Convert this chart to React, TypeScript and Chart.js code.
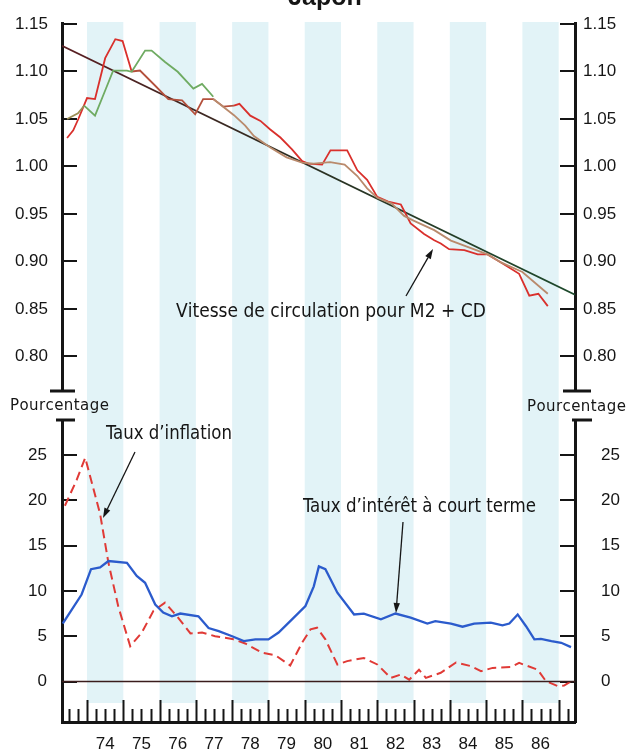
import React, { useEffect, useRef } from "react";
import { Chart, registerables } from "chart.js";

Chart.register(...registerables);

// ---------- DATA ----------
const X_MIN = 1973.31;
const X_MAX = 1987.45;

const velTicks = [0.8, 0.85, 0.9, 0.95, 1.0, 1.05, 1.1, 1.15];
const pctTicks = [0, 5, 10, 15, 20, 25];
const yearLabels = [74, 75, 76, 77, 78, 79, 80, 81, 82, 83, 84, 85, 86];
const shadedYears = [1974, 1976, 1978, 1980, 1982, 1984, 1986];

// Velocity of circulation (M2 + CD), red series
const velRedYears = [
  1973.45, 1973.62, 1973.76, 1974.0, 1974.22, 1974.5, 1974.78, 1974.98, 1975.23, 1975.46,
  1975.88, 1976.24, 1976.62, 1976.98, 1977.2, 1977.48, 1977.76, 1978.05, 1978.2, 1978.5,
  1978.78, 1979.05, 1979.33, 1979.65, 1979.93, 1980.1, 1980.48, 1980.71, 1981.17, 1981.45,
  1981.72, 1982.0, 1982.3, 1982.65, 1982.92, 1983.29, 1983.57, 1983.75, 1983.98, 1984.4,
  1984.77, 1985.04, 1985.41, 1985.91, 1986.19, 1986.44, 1986.7,
];
const velRedValues = [
  1.03, 1.038, 1.05, 1.072, 1.071, 1.114, 1.134, 1.132, 1.1, 1.101,
  1.085, 1.071, 1.0695, 1.055, 1.071, 1.071, 1.063, 1.064, 1.066, 1.0535,
  1.048, 1.039, 1.0305, 1.018, 1.0056, 1.003, 1.002, 1.017, 1.017, 0.996,
  0.986, 0.968, 0.963, 0.96, 0.94, 0.929, 0.9223, 0.919, 0.913, 0.912,
  0.9075, 0.9075, 0.899, 0.887, 0.864, 0.866, 0.853,
];

// Second velocity series (tan)
const velTanYears = [
  1977.48, 1978.05, 1978.36, 1978.6, 1979.05, 1979.5, 1979.93, 1980.25, 1980.7, 1981.1,
  1981.45, 1981.72, 1982.0, 1982.4, 1982.74, 1983.0, 1983.57, 1984.03, 1984.58, 1985.04,
  1985.41, 1986.0, 1986.7,
];
const velTanValues = [
  1.071, 1.054, 1.043, 1.032, 1.02, 1.0096, 1.004, 1.003, 1.0045, 1.002,
  0.99, 0.977, 0.967, 0.961, 0.948, 0.943, 0.933, 0.922, 0.914, 0.9075,
  0.899, 0.889, 0.866,
];

// Third velocity series (green)
const velGreenYears = [
  1973.45, 1973.75, 1973.92, 1974.22, 1974.5, 1974.72, 1975.1, 1975.23, 1975.6, 1975.78,
  1976.15, 1976.5, 1976.93, 1977.17, 1977.48,
];
const velGreenValues = [
  1.05, 1.056, 1.064, 1.0535, 1.08, 1.101, 1.101, 1.0997, 1.122, 1.122,
  1.11, 1.0997, 1.082, 1.087, 1.0734,
];

// Trend line end points
const trendYears = [1973.31, 1987.45];
const trendValues = [1.127, 0.865];

// Short-term interest rate (%)
const rateYears = [
  1973.33, 1973.85, 1974.11, 1974.36, 1974.59, 1975.1, 1975.37, 1975.6, 1975.88, 1976.1,
  1976.34, 1976.57, 1977.07, 1977.35, 1977.63, 1978.0, 1978.32, 1978.64, 1979.0, 1979.28,
  1979.65, 1980.02, 1980.25, 1980.39, 1980.57, 1980.9, 1981.36, 1981.63, 1982.1, 1982.5,
  1982.92, 1983.38, 1983.6, 1984.03, 1984.35, 1984.67, 1985.13, 1985.45, 1985.64, 1985.87,
  1986.1, 1986.33, 1986.51, 1986.8, 1987.07, 1987.34,
];
const rateValues = [
  6.4, 9.6, 12.4, 12.6, 13.3, 13.1, 11.65, 10.9, 8.5, 7.6,
  7.2, 7.5, 7.2, 5.9, 5.56, 5.0, 4.46, 4.65, 4.65, 5.4,
  6.86, 8.33, 10.5, 12.7, 12.4, 9.8, 7.4, 7.5, 6.86, 7.5,
  7.05, 6.4, 6.67, 6.4, 6.05, 6.4, 6.5, 6.2, 6.4, 7.4,
  6.1, 4.65, 4.7, 4.46, 4.27, 3.8,
];

// Inflation rate (%)
const inflYears = [
  1973.39, 1973.72, 1973.95, 1974.36, 1974.59, 1974.86, 1975.19, 1975.51, 1975.83, 1976.15,
  1976.48, 1976.85, 1977.17, 1977.53, 1978.0, 1978.36, 1978.83, 1979.19, 1979.6, 1979.93,
  1980.16, 1980.34, 1980.57, 1980.9, 1981.17, 1981.63, 1982.0, 1982.37, 1982.65, 1982.88,
  1983.15, 1983.34, 1983.75, 1984.17, 1984.58, 1984.86, 1985.18, 1985.69, 1985.91, 1986.42,
  1986.65, 1986.97, 1987.15, 1987.34,
];
const inflValues = [
  19.4, 22.3, 24.7, 18.5, 13.1, 8.3, 3.9, 5.4, 7.8, 8.7,
  7.2, 5.3, 5.4, 5.0, 4.7, 4.2, 3.17, 2.9, 1.77, 4.3,
  5.75, 5.94, 4.65, 1.88, 2.25, 2.6, 1.88, 0.4, 0.77, 0.2,
  1.3, 0.4, 0.96, 2.1, 1.7, 1.14, 1.5, 1.6, 2.05, 1.3,
  0.03, -0.5, -0.45, 0.03,
];

const zeroYears = [1973.31, 1987.45];
const zeroValues = [0, 0];

// ---------- STYLE ----------
const TICKFONT = '"Liberation Sans", Arial, sans-serif';
const NARROW = '"DejaVu Sans Condensed", "Liberation Sans", sans-serif';
const REGULAR = '"Liberation Sans", Arial, sans-serif';
const INK = "#151515";
const BAND = "#e2f3f7";

const pts = (xs: number[], ys: number[]) => xs.map((x, i) => ({ x, y: ys[i] }));

function fitText(ctx: CanvasRenderingContext2D, text: string, left: number, cy: number, width: number, font: string) {
  ctx.save();
  ctx.font = font;
  ctx.fillStyle = INK;
  ctx.textBaseline = "middle";
  ctx.textAlign = "left";
  const chars = Array.from(text);
  const w = ctx.measureText(text).width;
  if (w >= width) {
    ctx.translate(left, cy);
    ctx.scale(width / w, 1);
    ctx.fillText(text, 0, 0);
  } else {
    const gap = (width - w) / Math.max(1, chars.length - 1);
    let x = left;
    for (const ch of chars) {
      ctx.fillText(ch, x, cy);
      x += ctx.measureText(ch).width + gap;
    }
  }
  ctx.restore();
}

function arrow(ctx: CanvasRenderingContext2D, x0: number, y0: number, x1: number, y1: number) {
  ctx.save();
  ctx.strokeStyle = INK;
  ctx.fillStyle = INK;
  ctx.lineWidth = 1.3;
  const ang = Math.atan2(y1 - y0, x1 - x0);
  const hl = 10, hw = 3.2;
  const bx = x1 - Math.cos(ang) * hl, by = y1 - Math.sin(ang) * hl;
  ctx.beginPath();
  ctx.moveTo(x0, y0);
  ctx.lineTo(bx, by);
  ctx.stroke();
  ctx.beginPath();
  ctx.moveTo(x1, y1);
  ctx.lineTo(bx + Math.sin(ang) * hw, by - Math.cos(ang) * hw);
  ctx.lineTo(bx - Math.sin(ang) * hw, by + Math.cos(ang) * hw);
  ctx.closePath();
  ctx.fill();
  ctx.restore();
}

function bar(ctx: CanvasRenderingContext2D, x0: number, x1: number, y: number) {
  ctx.save();
  ctx.strokeStyle = INK;
  ctx.lineWidth = 3;
  ctx.beginPath();
  ctx.moveTo(x0, y);
  ctx.lineTo(x1, y);
  ctx.stroke();
  ctx.restore();
}

function bandsPlugin(yTop: number, yBottom: number) {
  return {
    id: "bands",
    beforeDraw(chart: any) {
      const { ctx } = chart;
      const xs = chart.scales.x;
      ctx.save();
      ctx.fillStyle = BAND;
      for (const yr of shadedYears) {
        const a = xs.getPixelForValue(yr);
        const b = xs.getPixelForValue(yr + 1);
        ctx.fillRect(a, yTop, b - a, yBottom - yTop);
      }
      ctx.restore();
    },
  };
}

function yAxis(position: "left" | "right", min: number, max: number, tickVals: number[], padding: number, digits: number) {
  return {
    type: "linear",
    position,
    min,
    max,
    afterFit: (s: any) => {
      s.width = position === "left" ? 62 : 51;
      s.paddingTop = 0;
      s.paddingBottom = 0;
    },
    afterBuildTicks: (s: any) => {
      s.ticks = tickVals.map((v) => ({ value: v }));
    },
    ticks: {
      autoSkip: false,
      padding,
      color: INK,
      font: { family: TICKFONT, size: 17 },
      callback: (v: any) => Number(v).toFixed(digits),
    },
    grid: {
      display: true,
      drawOnChartArea: false,
      drawTicks: true,
      tickLength: -15,
      lineWidth: 2,
      color: INK,
    },
    border: { display: true, width: 3, color: INK },
  };
}

function topConfig(): any {
  const trendColor = (c: any) => {
    const { chart } = c;
    const area = chart.chartArea;
    if (!area) return "#333";
    const g = chart.ctx.createLinearGradient(area.left, 0, area.right, 0);
    g.addColorStop(0, "#5a1e22");
    g.addColorStop(0.45, "#2c2e22");
    g.addColorStop(1, "#1d4a2c");
    return g;
  };
  return {
    type: "line",
    data: {
      datasets: [
        {
          data: pts(velGreenYears, velGreenValues),
          borderColor: "#6fab62",
          borderWidth: 1.8,
          pointRadius: 0,
          segment: { borderColor: (c: any) => (c.p1.parsed.x <= 1974.0 ? "#9c8e55" : undefined) },
        },
        {
          data: pts(velTanYears, velTanValues),
          borderColor: "#b98a6c",
          borderWidth: 1.8,
          pointRadius: 0,
        },
        {
          data: pts(velRedYears, velRedValues),
          borderColor: "#d9302c",
          borderWidth: 1.8,
          pointRadius: 0,
          segment: {
            borderColor: (c: any) =>
              c.p0.parsed.x >= 1975.2 && c.p1.parsed.x <= 1978.1 ? "#b4503c" : undefined,
          },
        },
        {
          data: pts(trendYears, trendValues),
          borderColor: trendColor,
          borderWidth: 1.8,
          pointRadius: 0,
        },
      ],
    },
    options: {
      responsive: false,
      animation: false,
      devicePixelRatio: 1,
      layout: { padding: { top: 23, bottom: 7, left: 0, right: 0 } },
      plugins: { legend: { display: false }, tooltip: { enabled: false } },
      elements: { line: { tension: 0 } },
      scales: {
        x: { type: "linear", min: X_MIN, max: X_MAX, display: false },
        y: yAxis("left", 0.76368, 1.15105, velTicks, 29, 2),
        y2: yAxis("right", 0.76368, 1.15105, velTicks, 23, 2),
      },
    },
    plugins: [
      bandsPlugin(22, 398),
      {
        id: "topDecor",
        afterDraw(chart: any) {
          const { ctx, chartArea } = chart;
          const L = chartArea.left, R = chartArea.right, B = chartArea.bottom;
          bar(ctx, L - 12, L + 13, B);
          bar(ctx, R - 12, R + 16, B);
          // title (partly cropped at the top)
          ctx.save();
          ctx.font = `bold 25px ${REGULAR}`;
          ctx.fillStyle = INK;
          ctx.textAlign = "center";
          ctx.textBaseline = "alphabetic";
          ctx.fillText("Japon", 325, 5);
          ctx.restore();
          fitText(ctx, "Vitesse de circulation pour M2 + CD", 176, 312, 309, `19px ${NARROW}`);
          arrow(ctx, 406, 296, 433, 249);
        },
      },
    ],
  };
}

function botConfig(): any {
  return {
    type: "line",
    data: {
      datasets: [
        {
          data: pts(zeroYears, zeroValues),
          borderColor: "#3a1c1c",
          borderWidth: 1.6,
          pointRadius: 0,
        },
        {
          data: pts(rateYears, rateValues),
          borderColor: "#2b5bcc",
          borderWidth: 2.3,
          pointRadius: 0,
        },
        {
          data: pts(inflYears, inflValues),
          borderColor: "#e03a36",
          borderWidth: 2,
          borderDash: [9, 5],
          pointRadius: 0,
        },
      ],
    },
    options: {
      responsive: false,
      animation: false,
      devicePixelRatio: 1,
      layout: { padding: { top: 22, bottom: 0, left: 0, right: 0 } },
      plugins: { legend: { display: false }, tooltip: { enabled: false } },
      elements: { line: { tension: 0 } },
      scales: {
        x: {
          type: "linear",
          position: "bottom",
          min: X_MIN,
          max: X_MAX,
          afterFit: (s: any) => {
            s.height = 28;
            s.paddingLeft = 0;
            s.paddingRight = 0;
          },
          afterBuildTicks: (s: any) => {
            s.ticks = yearLabels.map((y) => ({ value: 1900 + y + 0.5 }));
          },
          ticks: {
            autoSkip: false,
            maxRotation: 0,
            padding: 4,
            color: INK,
            font: { family: TICKFONT, size: 17 },
            callback: (v: any) => String(Math.floor(Number(v)) - 1900),
          },
          grid: { display: false },
          border: { display: true, width: 3, color: INK },
        },
        y: yAxis("left", -4.47, 28.863, pctTicks, 30, 0),
        y2: yAxis("right", -4.47, 28.863, pctTicks, 41, 0),
      },
    },
    plugins: [
      bandsPlugin(0, 305),
      {
        id: "botDecor",
        afterDraw(chart: any) {
          const { ctx, chartArea } = chart;
          const xs = chart.scales.x;
          const L = chartArea.left, R = chartArea.right, T = chartArea.top, B = chartArea.bottom;
          bar(ctx, L - 6, L + 13, T);
          bar(ctx, R - 3, R + 17, T);
          // quarterly tick marks rising from the baseline
          ctx.save();
          ctx.strokeStyle = INK;
          ctx.lineWidth = 2;
          for (let q = Math.ceil(X_MIN * 4); q / 4 < X_MAX; q++) {
            const v = q / 4;
            const px = Math.round(xs.getPixelForValue(v)) + 0.5;
            const len = q % 4 === 0 ? 22 : 13;
            ctx.beginPath();
            ctx.moveTo(px, B);
            ctx.lineTo(px, B - len);
            ctx.stroke();
          }
          ctx.restore();
          fitText(ctx, "Pourcentage", 10, 8, 98, `15px "DejaVu Sans", sans-serif`);
          fitText(ctx, "Pourcentage", 527, 9, 98, `15px "DejaVu Sans", sans-serif`);
          fitText(ctx, "Taux d\u2019inflation", 106, 36, 126, `19px ${NARROW}`);
          arrow(ctx, 135, 54, 103, 120);
          fitText(ctx, "Taux d\u2019int\u00e9r\u00eat \u00e0 court terme", 303, 109, 233, `19px ${NARROW}`);
          arrow(ctx, 403, 124, 396, 215);
        },
      },
    ],
  };
}

export default function App() {
  const topRef = useRef<HTMLCanvasElement>(null);
  const botRef = useRef<HTMLCanvasElement>(null);
  useEffect(() => {
    const c1 = new Chart(topRef.current as HTMLCanvasElement, topConfig());
    const c2 = new Chart(botRef.current as HTMLCanvasElement, botConfig());
    return () => {
      c1.destroy();
      c2.destroy();
    };
  }, []);
  return (
    <div style={{ position: "fixed", left: 0, top: 0, width: 626, height: 750, background: "#fff" }}>
      <canvas
        ref={topRef}
        width={626}
        height={398}
        style={{ position: "absolute", left: 0, top: 0, width: 626, height: 398 }}
      />
      <canvas
        ref={botRef}
        width={626}
        height={352}
        style={{ position: "absolute", left: 0, top: 398, width: 626, height: 352 }}
      />
    </div>
  );
}
